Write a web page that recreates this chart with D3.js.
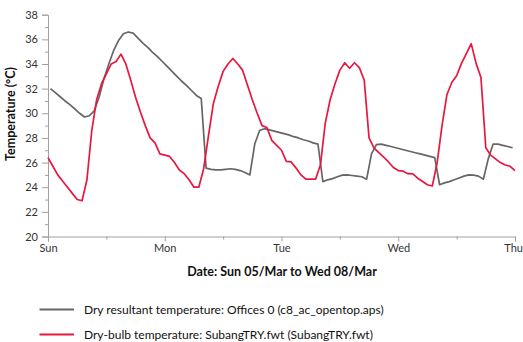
<!DOCTYPE html>
<html>
<head>
<meta charset="utf-8">
<script src="https://cdn.jsdelivr.net/npm/d3@7"></script>
<style>
  html, body { margin: 0; padding: 0; background: #fff; }
  svg { display: block; font-family: Lato, "Open Sans", sans-serif; }
</style>
</head>
<body>
<svg id="chart" width="523" height="342"></svg>
<script>
// Day tick labels (x axis positions in hours from Sun 00:00)
const dayLabels = ["Sun", "Mon", "Tue", "Wed", "Thu"];
const dayHours = [0, 24, 48, 72, 96];
const midHours = [12, 36, 60, 84];
const yMajor = [20, 22, 24, 26, 28, 30, 32, 34, 36, 38];
const yMinor = [21, 23, 25, 27, 29, 31, 33, 35, 37];

// Dry-bulb temperature (SubangTRY.fwt), hourly from h=0 to h=96
const dryBulb = [
  26.4, 25.7, 25.0, 24.5, 24.0, 23.5, 23.0, 22.9, 24.6, 28.6, 31.1, 32.4,
  33.2, 34.0, 34.2, 34.8, 34.0, 32.7, 31.3, 30.1, 29.0, 28.0, 27.6, 26.7,
  26.6, 26.5, 26.0, 25.4, 25.1, 24.6, 24.0, 24.0, 25.5, 28.2, 30.8, 32.2,
  33.4, 34.0, 34.45, 34.0, 33.5, 32.3, 31.1, 30.0, 29.0, 28.85, 27.8, 27.4,
  27.0, 26.1, 26.05, 25.55, 25.0, 24.65, 24.65, 24.65, 25.8, 29.2, 31.1, 32.4,
  33.5, 34.1, 33.65, 34.1, 33.7, 32.7, 28.0, 27.2, 26.8, 26.45, 26.05, 25.6,
  25.35, 25.3, 25.1, 25.08, 24.73, 24.46, 24.2, 24.1, 26.0, 29.0, 31.5, 32.5,
  33.05, 34.05, 34.85, 35.65, 34.05, 32.9, 27.2, 26.6, 26.3, 26.0, 25.8, 25.7,
  25.34
];

// Dry resultant temperature (Offices 0), half-hour stamps h+0.5 for h=0..95
const resultant = [
  32.0, 31.67, 31.34, 31.0, 30.7, 30.35, 30.0, 29.7, 29.8, 30.2, 31.3, 32.8,
  34.0, 35.1, 35.9, 36.45, 36.6, 36.5, 36.1, 35.7, 35.35, 34.95, 34.6, 34.2,
  33.8, 33.4, 33.0, 32.6, 32.25, 31.85, 31.45, 31.2, 25.55, 25.45, 25.4, 25.4,
  25.45, 25.5, 25.45, 25.35, 25.2, 25.0, 27.5, 28.6, 28.75, 28.65, 28.55, 28.45,
  28.35, 28.25, 28.1, 28.0, 27.85, 27.75, 27.6, 27.5, 24.45, 24.6, 24.7, 24.85,
  24.98, 25.0, 24.95, 24.9, 24.85, 24.65, 26.7, 27.45, 27.5, 27.4, 27.3, 27.2,
  27.1, 27.0, 26.9, 26.8, 26.7, 26.6, 26.5, 26.4, 24.2, 24.35, 24.45, 24.6,
  24.75, 24.9, 25.0, 24.98, 24.9, 24.65, 26.3, 27.5, 27.5, 27.4, 27.3, 27.2
];

const seriesNames = [
  "Dry resultant temperature: Offices 0 (c8_ac_opentop.aps)",
  "Dry-bulb temperature: SubangTRY.fwt (SubangTRY.fwt)"
];
const seriesColors = ["#666666", "#e8173f"];

const svg = d3.select("#chart");
const W = 523;
const mLeft = 48, mRight = 515, mTop = 14.7, mBottom = 236.5;

const x = d3.scaleLinear().domain([0, 96]).range([mLeft, mRight]);
const y = d3.scaleLinear().domain([20, 38]).range([mBottom, mTop]);

const axisColor = "#a0a0a0";
const textColor = "#333";
const tickFont = "11px";

// Y axis
const gy = svg.append("g").attr("transform", `translate(${mLeft},0)`);
gy.call(d3.axisLeft(y).tickValues(yMajor).tickSize(6).tickPadding(4).tickFormat(d3.format("d")));
gy.append("g").call(d3.axisLeft(y).tickValues(yMinor).tickSize(3).tickFormat(""))
  .select(".domain").remove();
gy.selectAll(".domain").attr("stroke", axisColor);
gy.selectAll(".tick line").attr("stroke", axisColor);
gy.selectAll(".tick text").attr("fill", textColor).style("font-size", tickFont).style("font-family", "Lato, sans-serif");

// X axis
const gx = svg.append("g").attr("transform", `translate(0,${mBottom})`);
gx.call(d3.axisBottom(x).tickValues(dayHours).tickSize(5).tickPadding(3)
  .tickFormat((d, i) => dayLabels[i]));
gx.append("g").call(d3.axisBottom(x).tickValues(midHours).tickSize(3).tickFormat(""))
  .select(".domain").remove();
gx.selectAll(".domain").attr("stroke", axisColor);
gx.selectAll(".tick line").attr("stroke", axisColor);
gx.selectAll(".tick text").attr("fill", textColor).style("font-size", tickFont).style("font-family", "Lato, sans-serif");
// keep the last label inside the picture
gx.selectAll(".tick text").each(function(d) {
  const bb = this.getBBox();
  const cx = x(d);
  if (cx + bb.width / 2 > W - 0.5) {
    d3.select(this).attr("text-anchor", "end").attr("x", (W - 0.5) - cx);
  }
});

// Lines
const lineRes = d3.line().x((d, i) => x(i + 0.5)).y(d => y(d));
const lineDb = d3.line().x((d, i) => x(i)).y(d => y(d));

svg.append("path").datum(resultant)
  .attr("fill", "none").attr("stroke", seriesColors[0]).attr("stroke-width", 1.7)
  .attr("stroke-linejoin", "round").attr("d", lineRes);
svg.append("path").datum(dryBulb)
  .attr("fill", "none").attr("stroke", seriesColors[1]).attr("stroke-width", 1.7)
  .attr("stroke-linejoin", "round").attr("d", lineDb);

// Axis titles
svg.append("text")
  .attr("transform", "translate(15,114) rotate(-90)")
  .attr("text-anchor", "middle")
  .attr("fill", "#111").style("font-weight", "bold").style("font-size", "12.5px")
  .text("Temperature (°C)");

svg.append("text")
  .attr("x", 282).attr("y", 276)
  .attr("text-anchor", "middle")
  .attr("fill", "#111").style("font-weight", "bold").style("font-size", "12.5px")
  .text("Date: Sun 05/Mar to Wed 08/Mar");

// Legend
const legY = [309.5, 334.5];
seriesNames.forEach((name, i) => {
  svg.append("line").attr("x1", 39.5).attr("x2", 74).attr("y1", legY[i]).attr("y2", legY[i])
    .attr("stroke", seriesColors[i]).attr("stroke-width", 1.8);
  svg.append("text").attr("x", 84).attr("y", legY[i]).attr("dy", "0.35em")
    .attr("fill", "#111").style("font-size", "12px")
    .text(name);
});
</script>
</body>
</html>
